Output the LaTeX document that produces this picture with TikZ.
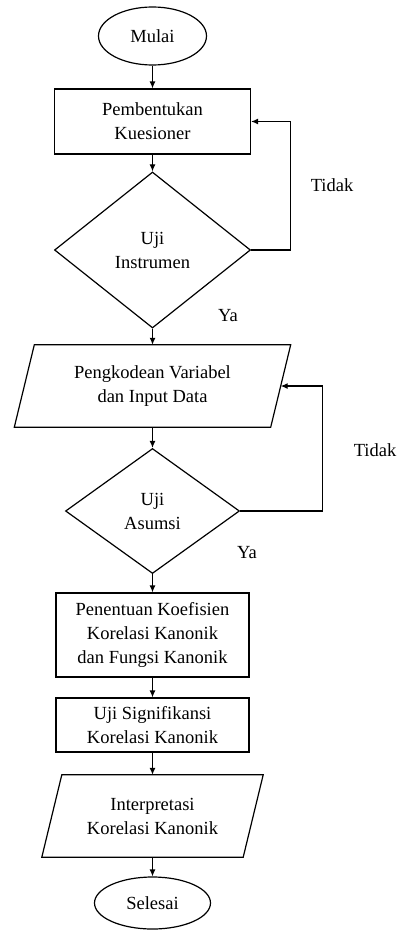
\documentclass[tikz,border=0pt]{standalone}
\usepackage{fontspec}
\setmainfont{Liberation Serif}
\usetikzlibrary{shapes.geometric,arrows.meta}
\begin{document}
\begin{tikzpicture}[x=1pt,y=-1pt,
  txt/.style={align=center,inner sep=0pt,font=\fontsize{18.5}{24}\selectfont},
  base/.style={txt,draw=black,line width=1.2pt},
  term/.style={base,ellipse},
  proc/.style={base,rectangle},
  dec/.style={base,diamond},
  io/.style={txt},
  iobox/.style={line width=1.2pt,line join=miter},
  arr/.style={line width=1.2pt,-{Latex[length=7pt,width=6pt]}},
  lbl/.style={inner sep=0pt,font=\fontsize{18.5}{24}\selectfont}]
\useasboundingbox (0,0) rectangle (397,934);
\node[term,minimum width=108pt,minimum height=58pt] (mulai) at (152.5,36) {Mulai};
\node[proc,minimum width=196pt,minimum height=65pt] (kues) at (152.5,121.5) {Pembentukan\\Kuesioner};
\node[dec,minimum width=196pt,minimum height=156pt] (uji1) at (152.5,250) {Uji\\Instrumen};
\node[io,minimum width=256pt,minimum height=82pt] (p1) at (152.5,386) {Pengkodean Variabel\\dan Input Data};
\draw[iobox] ([xshift=10pt]p1.north west) -- ([xshift=10pt]p1.north east) -- ([xshift=-10pt]p1.south east) -- ([xshift=-10pt]p1.south west) -- cycle;
\node[dec,minimum width=174pt,minimum height=125pt] (uji2) at (152.5,511) {Uji\\Asumsi};
\node[proc,minimum width=193pt,minimum height=84pt] (koef) at (152.5,635) {Penentuan Koefisien\\Korelasi Kanonik\\dan Fungsi Kanonik};
\node[proc,minimum width=193pt,minimum height=54pt] (sig) at (152.5,725) {Uji Signifikansi\\Korelasi Kanonik};
\node[io,minimum width=201pt,minimum height=82pt] (p2) at (152.5,816) {Interpretasi\\Korelasi Kanonik};
\draw[iobox] ([xshift=10pt]p2.north west) -- ([xshift=10pt]p2.north east) -- ([xshift=-10pt]p2.south east) -- ([xshift=-10pt]p2.south west) -- cycle;
\node[term,minimum width=116pt,minimum height=52pt] (selesai) at (152.5,903) {Selesai};

\draw[arr] (mulai) -- (kues);
\draw[arr] (kues) -- (uji1);
\draw[arr] (uji1) -- (p1);
\draw[arr] (p1) -- (uji2);
\draw[arr] (uji2) -- (koef);
\draw[arr] (koef) -- (sig);
\draw[arr] (sig) -- (p2);
\draw[arr] (p2) -- (selesai);
\draw[arr] (uji1.east) -- ++(39,0) |- (kues.east);
\draw[arr] (uji2.east) -- ++(82,0) |- (p1.east);

\node[lbl] (t1) at (332,185) {Tidak};
\node[lbl] (y1) at (228,316) {Ya};
\node[lbl] (t2) at (375,450) {Tidak};
\node[lbl] (y2) at (247,553) {Ya};
\end{tikzpicture}
\end{document}
